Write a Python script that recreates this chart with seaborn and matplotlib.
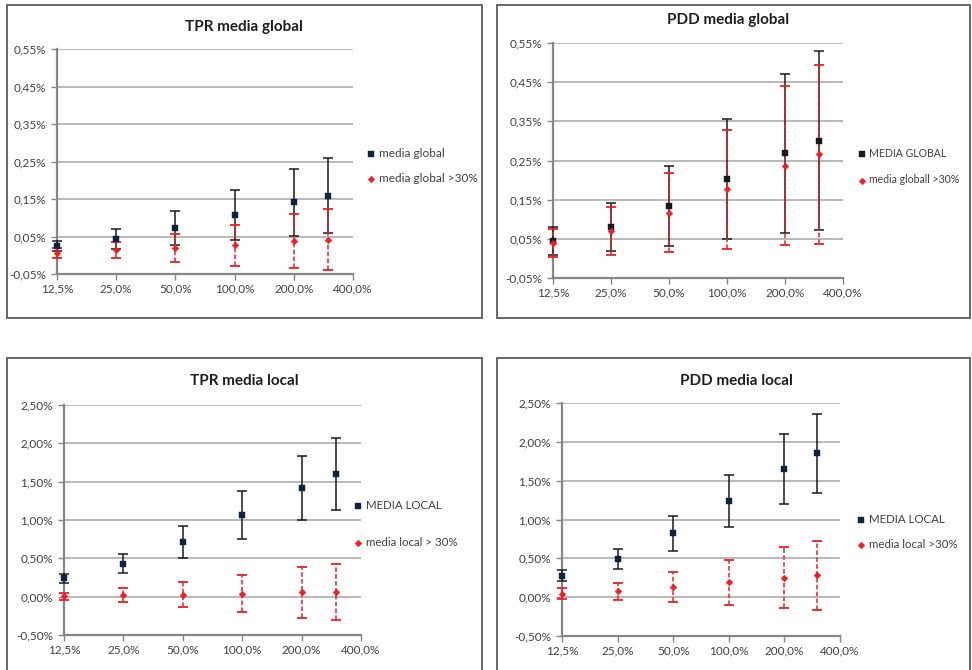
import matplotlib
matplotlib.use('Agg')
import matplotlib.pyplot as plt
import seaborn as sns
import pandas as pd
from matplotlib.patches import Rectangle
from matplotlib.ticker import FixedLocator, FuncFormatter, NullLocator

sns.set_theme(style='white')
plt.rcParams['font.family'] = ['Lato', 'DejaVu Sans']

# ---------------- data (values in %) ----------------
x_vals = [12.5, 25, 50, 100, 200, 300]
x_ticks = [12.5, 25, 50, 100, 200, 400]
x_tick_labels = ['12,5%', '25,0%', '50,0%', '100,0%', '200,0%', '400,0%']

titles = ['TPR media global', 'PDD media global', 'TPR media local', 'PDD media local']
labels_main = ['media global', 'MEDIA GLOBAL', 'MEDIA LOCAL', 'MEDIA LOCAL']
labels_30 = ['media global >30%', 'media globall >30%', 'media local > 30%', 'media local >30%']

tpr_g_mean = [0.025, 0.043, 0.072, 0.107, 0.141, 0.159]
tpr_g_err = [0.014, 0.027, 0.045, 0.067, 0.089, 0.100]
tpr_g30_mean = [0.007, 0.014, 0.020, 0.027, 0.038, 0.042]
tpr_g30_err = [0.013, 0.022, 0.037, 0.055, 0.072, 0.081]

pdd_g_mean = [0.044, 0.080, 0.133, 0.202, 0.268, 0.301]
pdd_g_err = [0.035, 0.061, 0.102, 0.153, 0.204, 0.229]
pdd_g30_mean = [0.039, 0.070, 0.117, 0.177, 0.236, 0.266]
pdd_g30_err = [0.035, 0.061, 0.101, 0.152, 0.203, 0.229]

tpr_l_mean = [0.237, 0.429, 0.708, 1.065, 1.414, 1.597]
tpr_l_err = [0.065, 0.125, 0.210, 0.314, 0.420, 0.470]
tpr_l30_mean = [0.006, 0.019, 0.028, 0.041, 0.058, 0.062]
tpr_l30_err = [0.045, 0.095, 0.165, 0.242, 0.330, 0.360]

pdd_l_mean = [0.275, 0.493, 0.822, 1.233, 1.648, 1.854]
pdd_l_err = [0.073, 0.133, 0.225, 0.335, 0.447, 0.507]
pdd_l30_mean = [0.044, 0.074, 0.129, 0.189, 0.253, 0.283]
pdd_l30_err = [0.068, 0.113, 0.195, 0.295, 0.390, 0.446]

y_ticks_global = [-0.05, 0.05, 0.15, 0.25, 0.35, 0.45, 0.55]
y_ticks_local = [-0.5, 0.0, 0.5, 1.0, 1.5, 2.0, 2.5]

series = [
    (tpr_g_mean, tpr_g_err, tpr_g30_mean, tpr_g30_err, y_ticks_global),
    (pdd_g_mean, pdd_g_err, pdd_g30_mean, pdd_g30_err, y_ticks_global),
    (tpr_l_mean, tpr_l_err, tpr_l30_mean, tpr_l30_err, y_ticks_local),
    (pdd_l_mean, pdd_l_err, pdd_l30_mean, pdd_l30_err, y_ticks_local),
]

# ---------------- layout (pixels) ----------------
W, H = 972, 670
axes_px = [(57, 49, 353, 274), (553, 43, 843, 278), (64, 405, 361, 635), (562, 403, 840, 636)]
boxes_px = [(7, 5, 482, 318), (497, 5, 970, 318), (7, 358, 482, 700), (497, 358, 970, 700)]
title_px = [(244, 27), (728, 20), (244, 381), (736, 381)]
legend_px = [(371, 166, 1.15, 8.5), (862, 166.5, 1.5, 7.6), (358, 524, 2.3, 8.3), (861, 532, 1.15, 8.3)]
main_colors = ['#0e2341', '#1a1a1a', '#0e2341', '#0e2341']
red = '#f01e23'
grid_c = '#a6a6a6'
axis_c = '#868686'
text_c = '#404040'

fig = plt.figure(figsize=(W / 100, H / 100), dpi=100)
fig.patch.set_facecolor('white')

def yfmt(v, pos):
    s = f"{v:.2f}".replace('.', ',')
    if s.startswith('-0,00'):
        s = '0,00'
    return s + '%'

for i in range(4):
    m, e, m30, e30, yt = series[i]
    l, t, r, b = axes_px[i]
    ax = fig.add_axes([l / W, 1 - b / H, (r - l) / W, (b - t) / H])
    bl, bt, br, bb = boxes_px[i]
    fig.add_artist(Rectangle((bl / W, 1 - bb / H), (br - bl) / W, (bb - bt) / H,
                             transform=fig.transFigure, fill=False,
                             edgecolor='#5a5a5a', linewidth=1.3))

    df = pd.DataFrame({'x': x_vals, 'm': m, 'e': e, 'm30': m30, 'e30': e30})

    eb1 = ax.errorbar(df['x'], df['m'], yerr=df['e'], fmt='none', ecolor='#1a1a1a',
                      elinewidth=1.1, capsize=3.5, capthick=1.1, zorder=2)
    eb2 = ax.errorbar(df['x'], df['m30'], yerr=df['e30'], fmt='none', ecolor=red,
                      elinewidth=1.1, capsize=3.5, capthick=1.3, zorder=2.5)
    eb2[2][0].set_linestyle((0, (3, 1.5)))
    for eb in (eb1, eb2):
        for c in eb[1]:
            c.set_clip_on(False)
        for c in eb[2]:
            c.set_clip_on(False)

    sns.scatterplot(data=df, x='x', y='m', marker='s', s=24, color=main_colors[i],
                    edgecolor=main_colors[i], linewidth=0.3, ax=ax, zorder=4,
                    label=labels_main[i], clip_on=False)
    sns.scatterplot(data=df, x='x', y='m30', marker='D', s=12, color=red,
                    edgecolor=red, linewidth=0.3, ax=ax, zorder=4,
                    label=labels_30[i], clip_on=False)

    ax.set_xscale('log', base=2)
    ax.set_xlim(12.5, 400)
    ax.xaxis.set_major_locator(FixedLocator(x_ticks))
    ax.xaxis.set_minor_locator(NullLocator())
    ax.set_xticklabels(x_tick_labels)
    ax.set_ylim(yt[0], yt[-1])
    ax.yaxis.set_major_locator(FixedLocator(yt))
    ax.yaxis.set_major_formatter(FuncFormatter(yfmt))
    ax.set_xlabel('')
    ax.set_ylabel('')
    ax.set_facecolor('white')

    ax.yaxis.grid(True, color=grid_c, linewidth=1.1)
    ax.xaxis.grid(False)
    ax.set_axisbelow(True)
    for s in ['top', 'right']:
        ax.spines[s].set_visible(False)
    for s in ['left', 'bottom']:
        ax.spines[s].set_color(axis_c)
        ax.spines[s].set_linewidth(1.6)
        ax.spines[s].set_zorder(1.5)
    ax.tick_params(axis='both', which='major', direction='out', length=4,
                   width=1, color=axis_c, labelcolor=text_c, labelsize=8.5,
                   left=True, bottom=True)
    ax.tick_params(axis='x', pad=3)
    ax.tick_params(axis='y', pad=4)

    mx, my, ls, lfs = legend_px[i]
    ax.legend(loc='center left', bbox_to_anchor=((mx - 3.5) / W, 1 - my / H),
              bbox_transform=fig.transFigure, frameon=False, fontsize=lfs,
              handlelength=0.6, handletextpad=0.4, borderpad=0, borderaxespad=0,
              labelspacing=ls, labelcolor=text_c, markerscale=1.0)

    tx, ty = title_px[i]
    fig.text(tx / W, 1 - ty / H, titles[i], ha='center', va='center',
             fontsize=11, fontweight='bold', color='#1f1f1f')

fig.savefig('out.png', dpi=100, facecolor='white')
